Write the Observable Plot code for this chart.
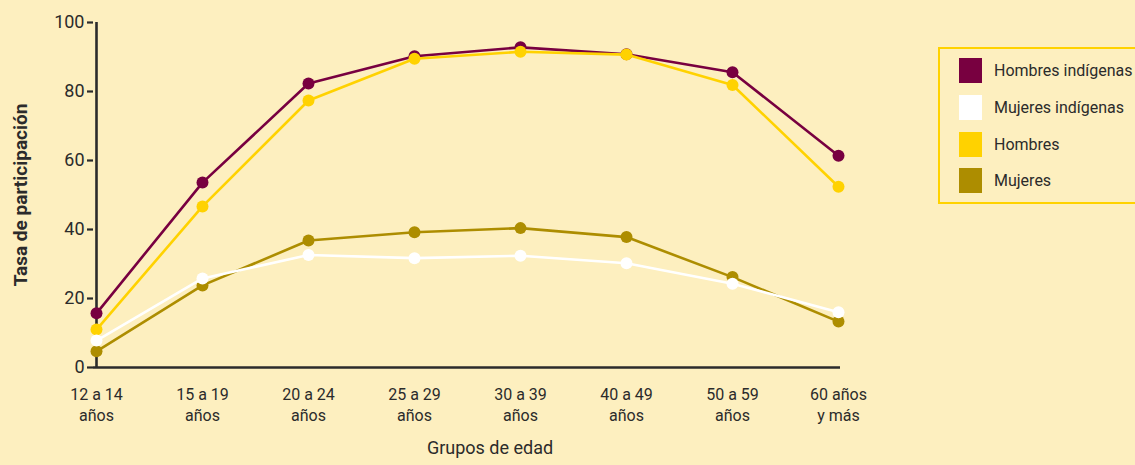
<!DOCTYPE html>
<html>
<head>
<meta charset="utf-8">
<script src="https://cdn.jsdelivr.net/npm/d3@7"></script>
<script src="https://cdn.jsdelivr.net/npm/@observablehq/plot@0.6"></script>
<style>
  html, body { margin: 0; padding: 0; background: #fdefbf; }
  #wrap { position: relative; width: 1135px; height: 465px; overflow: hidden; background: #fdefbf; }
  #legend { position: absolute; left: 938px; top: 47px; width: 220px; height: 157px; border: 2.5px solid #ffd200; box-sizing: border-box;
            font-family: Roboto, "Open Sans", sans-serif; font-size: 16px; color: #2b2b2b; }
  .row { position: absolute; left: 19px; height: 25px; display: flex; align-items: center; }
  .sw { width: 23px; height: 25px; margin-right: 12px; }
</style>
</head>
<body>
<div id="wrap"><div id="chart"></div><div id="legend"></div></div>
<script>
const categories = ["12 a 14 años","15 a 19 años","20 a 24 años","25 a 29 años","30 a 39 años","40 a 49 años","50 a 59 años","60 años y más"];
const tickLabels = ["12 a 14\naños","15 a 19\naños","20 a 24\naños","25 a 29\naños","30 a 39\naños","40 a 49\naños","50 a 59\naños","60 años\ny más"];
const seriesNames = ["Hombres indígenas","Mujeres indígenas","Hombres","Mujeres"];
const seriesColors = ["#780040","#ffffff","#ffd200","#ad8d00"];
const hombresIndigenas = [15.7, 53.6, 82.3, 90.2, 92.8, 90.8, 85.6, 61.4];
const mujeresIndigenas = [7.8, 25.8, 32.6, 31.7, 32.4, 30.2, 24.3, 16.0];
const hombres = [11.0, 46.7, 77.4, 89.5, 91.5, 90.7, 81.9, 52.4];
const mujeres = [4.7, 23.8, 36.8, 39.2, 40.4, 37.8, 26.2, 13.3];
const yTicks = [0, 20, 40, 60, 80, 100];

const valuesBySeries = [hombresIndigenas, mujeresIndigenas, hombres, mujeres];
const drawOrder = [0, 2, 3, 1];
const font = "Roboto, 'Open Sans', sans-serif";
const ink = "#2b2b2b";

const marks = [
  Plot.ruleY([0], {stroke: ink, strokeWidth: 2.6}),
  Plot.ruleX([categories[0]], {stroke: ink, strokeWidth: 2.6}),
  Plot.axisY({ticks: yTicks, tickSize: 6, tickPadding: 3, stroke: ink, strokeWidth: 2.2, fontSize: 18, fill: ink, label: null}),
  Plot.axisX({tickSize: 0, tickPadding: 17, fontSize: 16, fill: ink, lineHeight: 1.35, label: null,
              tickFormat: d => tickLabels[categories.indexOf(d)]}),
  Plot.text(["Tasa de participación"], {frameAnchor: "left", textAnchor: "middle", rotate: -90, dx: -73, fontWeight: "bold", fontSize: 19, fill: ink}),
  Plot.text(["Grupos de edad"], {frameAnchor: "bottom", dx: 23, dy: 86, fontSize: 18, fill: ink})
];
for (const s of drawOrder) {
  const data = categories.map((c, i) => ({cat: c, v: valuesBySeries[s][i]}));
  marks.push(Plot.line(data, {x: "cat", y: "v", stroke: seriesColors[s], strokeWidth: 2.6}));
  marks.push(Plot.dot(data, {x: "cat", y: "v", fill: seriesColors[s], r: 6}));
}

const chart = Plot.plot({
  width: 1135, height: 465,
  marginLeft: 93, marginRight: 295, marginTop: 22, marginBottom: 98,
  style: {background: "transparent", fontFamily: font, color: ink},
  x: {type: "point", domain: categories, padding: 0, axis: null},
  y: {domain: [0, 100], axis: null},
  marks
});
document.getElementById("chart").appendChild(chart);

const legend = document.getElementById("legend");
const tops = [9, 46, 83, 119];
seriesNames.forEach((name, i) => {
  const row = document.createElement("div");
  row.className = "row";
  row.style.top = tops[i] + "px";
  const sw = document.createElement("div");
  sw.className = "sw";
  sw.style.background = seriesColors[i];
  const t = document.createElement("span");
  t.textContent = name;
  row.appendChild(sw); row.appendChild(t);
  legend.appendChild(row);
});
</script>
</body>
</html>
